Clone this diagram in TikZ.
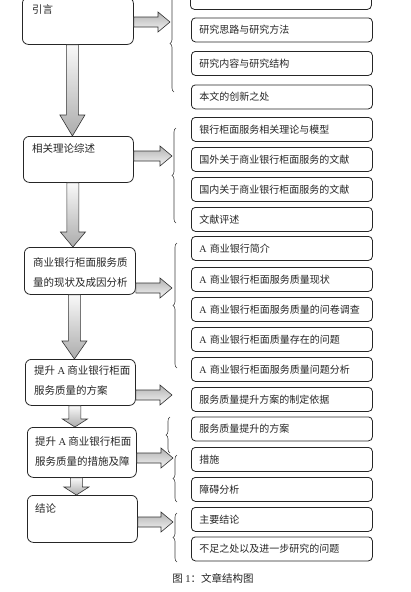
\documentclass[tikz,border=0pt]{standalone}
\usepackage{fontspec}
\setmainfont{Liberation Serif}
\newfontfamily\cjk{Noto Sans CJK SC}
\usetikzlibrary{calc, decorations.pathreplacing}

\newcommand{\bankA}{\textrm{A}\ }

\tikzset{
  leftbox/.style={draw=black!85, line width=0.8pt, rounded corners=6pt,
                  anchor=north west, inner sep=0pt},
  boxtext/.style={anchor=north west, inner sep=0pt, align=left, text=black!85,
                  font=\cjk\fontsize{10.5}{20}\selectfont},
  rightbox/.style={draw=black!85, line width=0.8pt, rounded corners=4pt,
                   anchor=north west, minimum width=181pt, minimum height=24pt,
                   text width=165pt, inner xsep=8pt, align=left, text=black!85,
                   font=\cjk\fontsize{10}{12}\selectfont},
  dblock/.style={draw=black!80, line width=0.6pt, top color=gray!5, bottom color=gray!65},
  rblock/.style={draw=black!80, line width=0.6pt, top color=gray!60, bottom color=gray!8},
  sidebrace/.style={draw=black!75, line width=0.6pt, decorate,
                    decoration={brace, amplitude=4pt}},
}

% block arrow going down from one box to the next: from, to, head length
\newcommand{\darrow}[3]{%
  \path[dblock] let \p1=($(#1.south)+(-5.5,0)$), \p2=(#2.north) in
    (\x1-6pt,\y1) -- (\x1+6pt,\y1) -- (\x1+6pt,\y2+#3pt) -- (\x1+12.5pt,\y2+#3pt)
    -- (\x1,\y2) -- (\x1-12.5pt,\y2+#3pt) -- (\x1-6pt,\y2+#3pt) -- cycle;}

% block arrow going right from a box to a brace
\newcommand{\rarrow}[2]{%
  \path[rblock] let \p1=(#1.east |- #2), \p2=(#2) in
    (\x1,\y1+5pt) -- (\x2-12pt,\y1+5pt) -- (\x2-12pt,\y1+10pt) -- (\x2,\y1)
    -- (\x2-12pt,\y1-10pt) -- (\x2-12pt,\y1-5pt) -- (\x1,\y1-5pt) -- cycle;}

\begin{document}
\begin{tikzpicture}[x=1pt, y=-1pt]

\clip (0,0) rectangle (410,592);
\fill[white] (0,0) rectangle (410,592);

% === Left column: chapters ===
\node[leftbox, minimum width=111pt, minimum height=47pt] (b1) at (22,-3) {};
\node[boxtext] (b1t) at ($(b1.north west)+(10,7)$) {引言};

\node[leftbox, minimum width=110pt, minimum height=46pt] (b2) at (23,136) {};
\node[boxtext] (b2t) at ($(b2.north west)+(9,7.5)$) {相关理论综述};

\node[leftbox, minimum width=111pt, minimum height=47pt] (b3) at (24,247) {};
\node[boxtext] (b3t) at ($(b3.north west)+(9,10)$) {商业银行柜面服务质\\量的现状及成因分析};

\node[leftbox, minimum width=110pt, minimum height=46pt] (b4) at (25,359) {};
\node[boxtext] (b4t) at ($(b4.north west)+(9,6.5)$) {提升 \bankA 商业银行柜面\\服务质量的方案};

\node[leftbox, minimum width=109pt, minimum height=50pt] (b5) at (27,427) {};
\node[boxtext] (b5t) at ($(b5.north west)+(8,9)$) {提升 \bankA 商业银行柜面\\服务质量的措施及障};

\node[leftbox, minimum width=110pt, minimum height=47pt] (b6) at (27,495) {};
\node[boxtext] (b6t) at ($(b6.north west)+(8,8.5)$) {结论};

% === Right column: sections ===
\node[rightbox, minimum height=26pt] (r0) at (190,-17) {};
\foreach \ytop/\txt [count=\i] in {
    17.5/研究思路与研究方法,
    51/研究内容与研究结构,
    84.5/本文的创新之处,
    117/银行柜面服务相关理论与模型,
    147/国外关于商业银行柜面服务的文献,
    177/国内关于商业银行柜面服务的文献,
    207/文献评述,
    236/\bankA 商业银行简介,
    267/\bankA 商业银行柜面服务质量现状,
    297/\bankA 商业银行柜面服务质量的问卷调查,
    327/\bankA 商业银行柜面质量存在的问题,
    357/\bankA 商业银行柜面服务质量问题分析,
    387/服务质量提升方案的制定依据,
    416.5/服务质量提升的方案,
    447/措施,
    477/障碍分析,
    507/主要结论,
    536.5/不足之处以及进一步研究的问题}
  \node[rightbox] (r\i) at (191,\ytop) {\txt};

% === Braces ===
\draw[sidebrace] (174,92) -- (174,-5);
\draw[sidebrace] (176,223) -- (176,128);
\draw[sidebrace] (177,368) -- (177,243);
\draw[sidebrace] (170,453) -- (170,417);
\draw[sidebrace] (177,502) -- (177,455);
\draw[sidebrace] (177,562) -- (177,513);

% arrow tips on the braces
\coordinate (t1) at (170,22);
\coordinate (t2) at (172,156);
\coordinate (t3) at (172,288);
\coordinate (t4) at (172,395);
\coordinate (t5) at (173,458);
\coordinate (t6) at (173,522);

% === Arrows ===
\darrow{b1}{b2}{21}
\darrow{b2}{b3}{15}
\darrow{b3}{b4}{18}
\darrow{b4}{b5}{8}
\darrow{b5}{b6}{8}

\rarrow{b1}{t1}
\rarrow{b2}{t2}
\rarrow{b3}{t3}
\rarrow{b4}{t4}
\rarrow{b5}{t5}
\rarrow{b6}{t6}

% caption
\node[font=\cjk\fontsize{10.5}{12}\selectfont, text=black!85] (cap) at (213,578) {图 \textrm{1}：文章结构图};

\end{tikzpicture}
\end{document}
